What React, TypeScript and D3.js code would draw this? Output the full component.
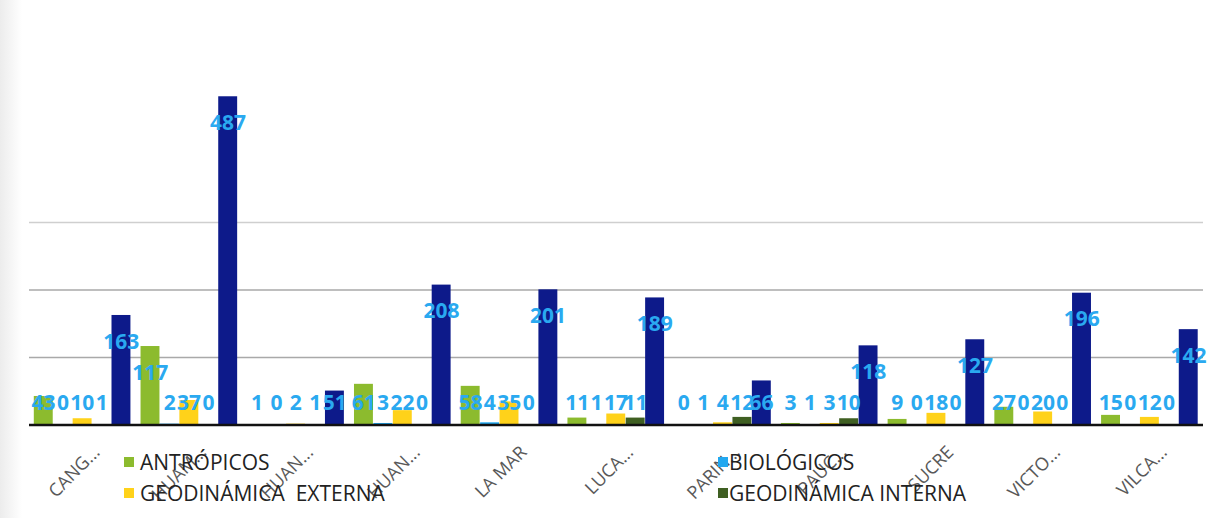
import React from "react";
import * as d3 from "d3";

const categories = ["CANG...", "HUAM...", "HUAN...", "HUAN...", "LA MAR", "LUCA...", "PARIN...", "PAUC...", "SUCRE", "VICTO...", "VILCA..."];
const antropicos = [43, 117, 1, 61, 58, 11, 0, 3, 9, 27, 15];
const biologicos = [0, 2, 0, 3, 4, 1, 1, 1, 0, 0, 0];
const geoExterna = [10, 37, 2, 22, 35, 17, 4, 3, 18, 20, 12];
const geoInterna = [1, 0, 1, 0, 0, 11, 12, 10, 0, 0, 0];
const totales = [163, 487, 51, 208, 201, 189, 66, 118, 127, 196, 142];
const gridTicks = [100, 200, 300];

const seriesNames = ["ANTRÓPICOS", "BIOLÓGICOS", "GEODINÁMICA  EXTERNA", "GEODINÁMICA INTERNA", "TOTAL"];
const seriesValues = [antropicos, biologicos, geoExterna, geoInterna, totales];
const seriesColors = ["#8cbb2e", "#22a8f0", "#ffd21a", "#3f5f22", "#0d1a8a"];

const W = 1215;
const H = 518;
const plotLeft = 29;
const plotRight = 1203;
const baseY = 425;

export default function App() {
  const x = d3.scaleBand<number>().domain(d3.range(categories.length)).range([plotLeft, plotRight]).paddingInner(0.09).paddingOuter(0.045);
  const xs = d3.scaleBand<number>().domain(d3.range(seriesNames.length)).range([0, x.bandwidth()]).padding(0);
  const y = d3.scaleLinear().domain([0, 500]).range([baseY, baseY - 337.5]);
  const barW = xs.bandwidth() - 0.5;

  const legendItems = [
    { s: 0, lx: 124, tx: 140, ly: 470 },
    { s: 1, lx: 718, tx: 729, ly: 470 },
    { s: 2, lx: 124, tx: 140, ly: 501 },
    { s: 3, lx: 718, tx: 729, ly: 501 },
  ];

  return (
    <svg width={W} height={H} style={{ position: "absolute", left: 0, top: 0, background: "#fff" }}>
      <defs>
        <linearGradient id="edgeL" x1="0" x2="1" y1="0" y2="0">
          <stop offset="0" stopColor="#ececec" />
          <stop offset="1" stopColor="#ffffff" />
        </linearGradient>
      </defs>
      <rect x={0} y={0} width={W} height={H} fill="#fff" />
      <rect x={0} y={0} width={22} height={H} fill="url(#edgeL)" />
      {gridTicks.map((t) => (
        <line key={t} x1={plotLeft} x2={plotRight} y1={y(t)} y2={y(t)} stroke={t === 300 ? "#cfcfcf" : "#a9a9a9"} strokeWidth={1.5} />
      ))}
      {seriesValues.map((vals, s) => (
        <g key={s}>
          {vals.map((v, i) => (
            <rect key={i} x={(x(i) as number) + (xs(s) as number)} y={y(v)} width={barW} height={baseY - y(v)} fill={seriesColors[s]} />
          ))}
        </g>
      ))}
      <line x1={plotLeft} x2={plotRight} y1={baseY} y2={baseY} stroke="#111" strokeWidth={2.5} />
      {seriesValues.map((vals, s) => (
        <g key={"l" + s}>
          {vals.map((v, i) => {
            const cx = (x(i) as number) + (xs(s) as number) + xs.bandwidth() / 2;
            const ly = Math.min(y(v) + 26, baseY - 23);
            return (
              <text key={i} x={cx} y={ly} dy="0.36em" textAnchor="middle" fontFamily="'Open Sans', sans-serif" fontWeight={700} fontSize={21} fill="#2aa9f0">
                {v}
              </text>
            );
          })}
        </g>
      ))}
      {categories.map((c, i) => {
        const cx = (x(i) as number) + x.bandwidth() / 2;
        return (
          <text key={i} transform={`translate(${cx + 14},${baseY + 24}) rotate(-45)`} textAnchor="end" dy="0.35em" fontFamily="'Open Sans', sans-serif" fontSize={18} fill="#595959">
            {c}
          </text>
        );
      })}
      {legendItems.map((it) => (
        <g key={it.s}>
          <rect x={it.lx} y={it.ly - 13} width={10} height={10} fill={seriesColors[it.s]} />
          <text x={it.tx} y={it.ly} fontFamily="'Open Sans', sans-serif" fontSize={21} fill="#222" style={{ whiteSpace: "pre" }}>
            {seriesNames[it.s]}
          </text>
        </g>
      ))}
    </svg>
  );
}
